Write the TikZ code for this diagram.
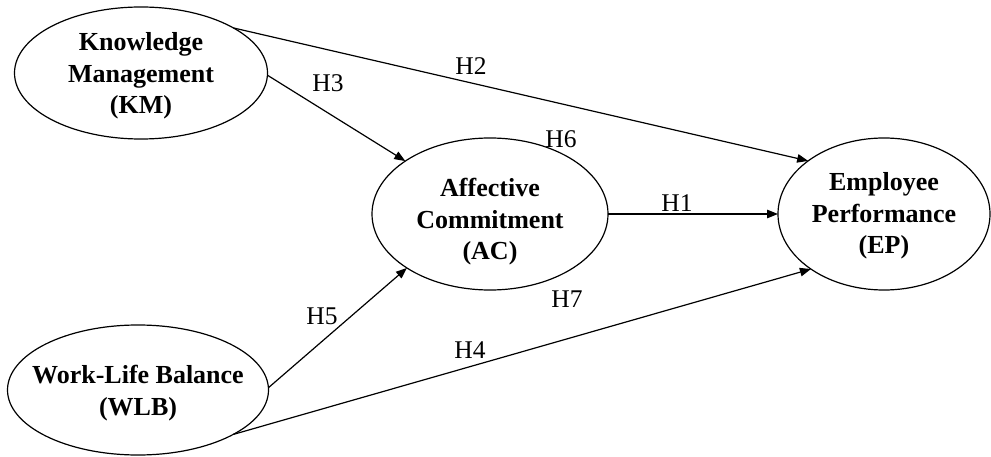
\documentclass[tikz,border=0pt]{standalone}
\usepackage{fontspec}
\setmainfont{Liberation Serif}
\usetikzlibrary{shapes.geometric,arrows.meta}
\begin{document}
\begin{tikzpicture}[x=1pt,y=-1pt,
  construct/.style={draw=black, line width=1.2pt, ellipse, inner sep=0pt, outer sep=0pt},
  ctext/.style={align=center, inner sep=0pt, font=\fontsize{26}{31.5}\selectfont\bfseries},
  hlabel/.style={inner sep=0pt, font=\fontsize{25.5}{30}\selectfont},
  path/.style={draw=black, line width=1.2pt, -{Triangle[length=11pt,width=8.5pt]}},
  link/.style={draw=black, line width=1.2pt}]
\useasboundingbox (0,0) rectangle (991,457);
\fill[white] (0,0) rectangle (991,457);
% constructs
\node[construct, minimum width=253pt, minimum height=132pt] (km) at (141,73) {};
\node[construct, minimum width=261pt, minimum height=130pt] (wlb) at (138,390) {};
\node[construct, minimum width=236pt, minimum height=152pt] (ac) at (490,214) {};
\node[construct, minimum width=212pt, minimum height=152pt] (ep) at (884,214) {};
% texts
\node[ctext] (kmt) at (141,76) {Knowledge\\Management\\(KM)};
\node[ctext] (wlbt) at (138,393) {Work-Life Balance\\(WLB)};
\node[ctext] (act) at (490,222) {Affective\\Commitment\\(AC)};
\node[ctext] (ept) at (884,216) {Employee\\Performance\\(EP)};
% paths
\draw[path] (km.26.6) -- (ep.145);
\draw[path] (km.-1) -- (ac.148.5);
\draw[path] (ac.east) -- (ep.west);
\draw[path] (wlb.1.3) -- (ac.213.5);
\draw[path] (wlb.-25.3) -- (ep.217);
% labels
\node[hlabel] (h2) at (471,66) {H2};
\node[hlabel] (h3) at (328,83) {H3};
\node[hlabel] (h6) at (561,139) {H6};
\node[hlabel] (h1) at (677,203) {H1};
\node[hlabel] (h7) at (567,299) {H7};
\node[hlabel] (h5) at (322,316) {H5};
\node[hlabel] (h4) at (470,350) {H4};
\end{tikzpicture}
\end{document}
